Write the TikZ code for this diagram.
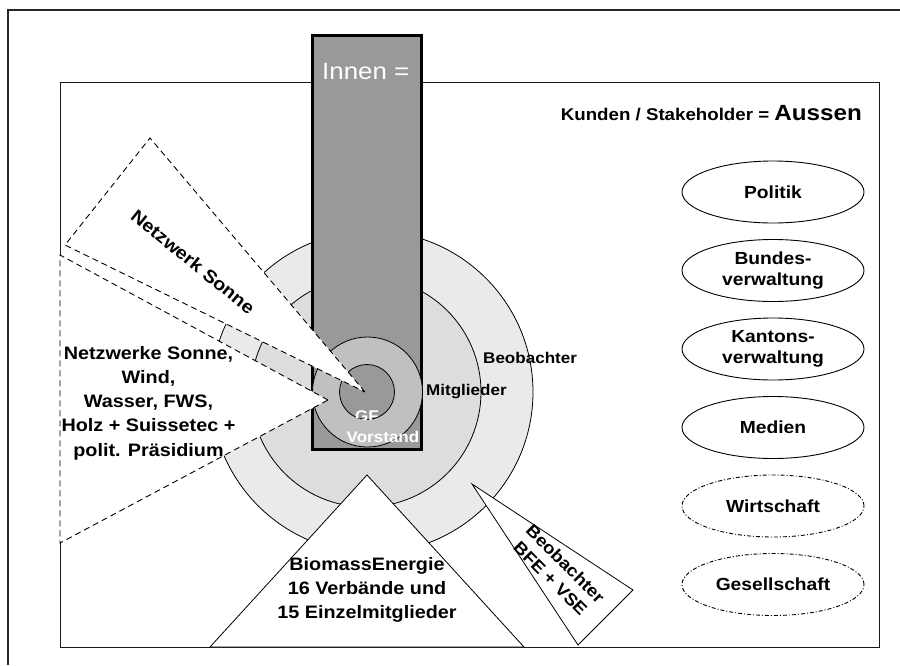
\documentclass[tikz,border=0pt]{standalone}
\usepackage{fontspec}
\setmainfont{Liberation Sans}[FakeStretch=1.1]
\usetikzlibrary{shapes.geometric}
\definecolor{ringA}{HTML}{EAEAEA}
\definecolor{ringB}{HTML}{DDDDDD}
\definecolor{ringC}{HTML}{C0C0C0}
\definecolor{rectgray}{HTML}{999999}
\begin{document}
\begin{tikzpicture}[x=1pt,y=-1pt,
  wedge/.style={fill=white,draw=black,line width=0.9pt,dash pattern=on 6pt off 4pt},
  tri/.style={fill=white,draw=black,line width=0.8pt},
  ring/.style={draw=black,line width=0.8pt},
  oval/.style={ellipse,draw=black,line width=0.9pt,minimum width=182pt,minimum height=62pt,inner sep=0pt,align=center,font=\fontsize{17.5}{21}\selectfont\bfseries},
  ovaldd/.style={oval,dash pattern=on 4pt off 2pt on 1pt off 2pt},
  lbl/.style={font=\fontsize{18}{24.2}\selectfont\bfseries,align=center,inner sep=0pt},
  small/.style={font=\fontsize{15.5}{18}\selectfont\bfseries,inner sep=0pt}]
\useasboundingbox (0,0) rectangle (900,665);
\fill[white] (0,0) rectangle (900,665);
% frames
\draw[line width=1.3pt,color=black!85] (8,665) -- (8,10) -- (900,10);
\draw[line width=1pt,color=black!90] (60,82) rectangle (879,647);
% rings
\filldraw[ring,fill=ringA] (372,392) circle[radius=161];
\filldraw[ring,fill=ringB] (366,392) circle[radius=115];
\filldraw[fill=rectgray,draw=black,line width=2.8pt] (312.5,35.5) rectangle (421.5,449.5);
\filldraw[ring,fill=ringC] (367.5,392) circle[radius=55];
\filldraw[ring,fill=rectgray] (367,392) circle[radius=27.5];
\begin{scope}
  \clip (367,392) circle[radius=27.5];
  \node[small,text=white,anchor=base] (gf) at (367,421) {GF};
\end{scope}
% wedges
\filldraw[wedge] (365,392) -- (150,138) -- (65,245) -- cycle;
\filldraw[wedge] (328,400) -- (60,255) -- (60,543) -- cycle;
\filldraw[tri] (367,475) -- (210,647) -- (524,647) -- cycle;
\filldraw[tri] (472,484) -- (633,590) -- (578,645) -- cycle;
% texts
\node[anchor=base west,inner sep=0pt,text=white,font=\fontsize{23.5}{28}\selectfont] (innen) at (322,79) {Innen =};
\node[anchor=base east,inner sep=0pt,font=\bfseries] (kunden) at (862,120)
  {{\fontsize{17}{20}\selectfont Kunden / Stakeholder = }{\fontsize{22}{26}\selectfont Aussen}};
\node[small,text=white,anchor=base] (vorstand) at (383,442) {Vorstand};
\node[small,anchor=base west] (mitglieder) at (426,395) {Mitglieder};
\node[small,anchor=base west] (beob) at (483,363) {Beobachter};
\node[lbl,rotate=-39] (ns) at (193,262) {Netzwerk Sonne};
\node[lbl] (nws) at (148.5,403) {Netzwerke Sonne,\\Wind,\\Wasser, FWS,\\Holz + Suissetec +\\polit. Präsidium};
\node[lbl,font=\fontsize{18}{23.7}\selectfont\bfseries] (bio) at (367,590) {BiomassEnergie\\16 Verbände und\\15 Einzelmitglieder};
\node[lbl,font=\fontsize{17}{21}\selectfont\bfseries,rotate=-45] (bfe) at (558,571) {Beobachter\\BFE + VSE};
% stakeholder ovals
\node[oval] (politik) at (773,192) {Politik};
\node[oval] (bund) at (773,270.5) {Bundes-\\verwaltung};
\node[oval] (kanton) at (773,349) {Kantons-\\verwaltung};
\node[oval] (medien) at (773,427.5) {Medien};
\node[ovaldd] (wirt) at (773,506) {Wirtschaft};
\node[ovaldd] (ges) at (773,584.5) {Gesellschaft};
\end{tikzpicture}
\end{document}
